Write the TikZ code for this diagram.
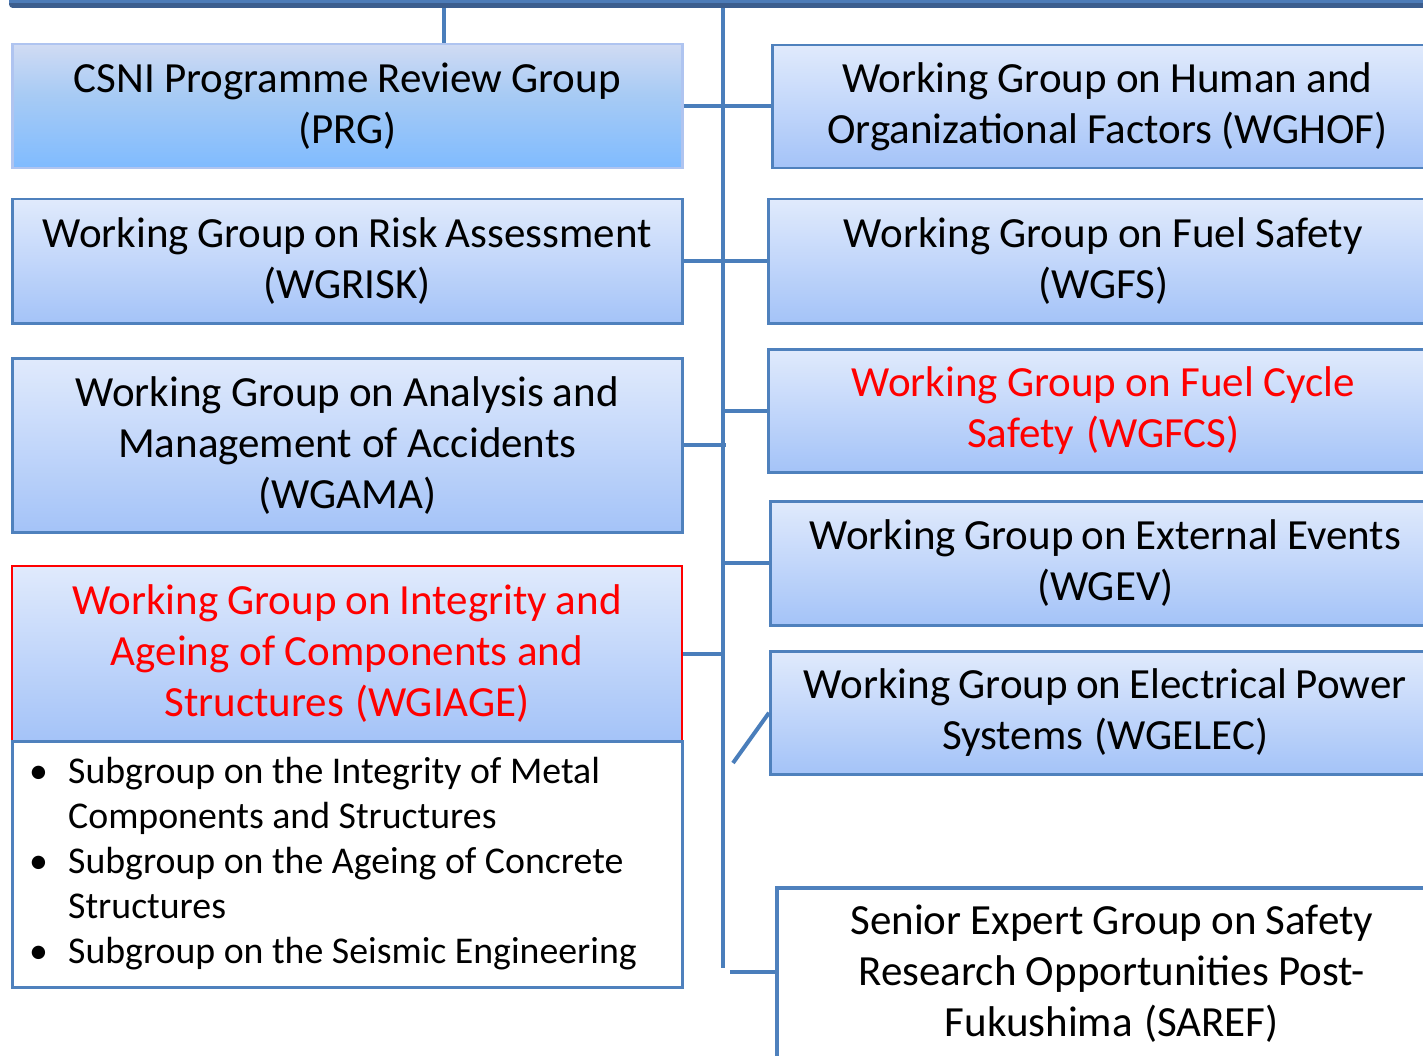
\documentclass[tikz,border=0pt]{standalone}
\usepackage{fontspec}
\setmainfont{Carlito}
\usetikzlibrary{calc}

\definecolor{edge}{HTML}{4F81BD}
\definecolor{wire}{HTML}{4A7EBB}
\definecolor{bardark}{HTML}{3C5E8E}
\definecolor{barlight}{HTML}{4D7CB8}
\definecolor{boxtop}{HTML}{E0EAFC}
\definecolor{boxbot}{HTML}{A4C3F8}
\definecolor{prgtop}{HTML}{F4E8F6}
\definecolor{prghaze}{HTML}{E2E2F3}
\definecolor{prgpale}{HTML}{A8CBF4}
\definecolor{prgmid}{HTML}{7FBBFF}
\definecolor{prgbot}{HTML}{5E9DFF}
\definecolor{prgedge}{HTML}{AFC4F0}
\definecolor{alert}{HTML}{FF0000}

\pgfdeclareverticalshading{prgshade}{100bp}{color(0bp)=(prgbot); color(25bp)=(prgmid);
  color(55bp)=(prgpale); color(84bp)=(prghaze); color(100bp)=(prgtop)}

\newcommand\bigtxt{\fontsize{43}{51}\selectfont}
\newcommand\smalltxt{\fontsize{37.8}{45}\selectfont}

\begin{document}
\begin{tikzpicture}[x=1pt,y=-1pt,
  wg/.style={draw=edge, line width=2.5pt, top color=boxtop, bottom color=boxbot,
    minimum width=670pt, inner sep=0pt, text width=660pt, align=center,
    font=\bigtxt, execute at begin node={\spaceskip=7.6pt plus 2pt minus 1pt\relax},
    anchor=north west},
  plain/.style={draw=edge, line width=3pt, fill=white, minimum width=670pt,
    inner sep=0pt, anchor=north west},
  wire/.style={draw=wire, line width=4pt}]

\useasboundingbox (0,0) rectangle (1423,1056);
\clip (0,0) rectangle (1423,1056);

% heading bar
\node[fill=bardark, rounded corners=3pt, minimum width=1430pt, minimum height=15pt,
  inner sep=0pt, anchor=south west] (bar) at (9,8) {};
\fill[barlight] (9,-8) rectangle (1440,3);

% left column
\node[wg, draw=prgedge, shading=prgshade, minimum height=124pt] (prg) at (11,43)
  {CSNI Programme Review Group\\(PRG)};
\node[wg, minimum height=124pt] (wgrisk) at (11,198)
  {Working Group on Risk Assessment\\(WGRISK)};
\node[wg, minimum height=174pt] (wgama) at (11,357)
  {Working Group on Analysis and\\Management of Accidents\\(WGAMA)};
\node[wg, draw=alert, line width=2pt, text=alert, minimum height=175pt] (wgiage) at (11,565)
  {Working Group on Integrity and\\Ageing of Components and\\Structures (WGIAGE)};
\node[plain, minimum height=246pt] (subs) at (11,740) {};
\node[anchor=base west, inner sep=0pt, font=\smalltxt] (sublist) at (29,783)
  {\begin{tabular}[t]{@{}p{39pt}@{}l@{}}
   \textbullet & Subgroup on the Integrity of Metal\\
               & Components and Structures\\
   \textbullet & Subgroup on the Ageing of Concrete\\
               & Structures\\
   \textbullet & Subgroup on the Seismic Engineering
   \end{tabular}};

% right column
\node[wg, minimum height=123pt] (wghof) at (771,44)
  {Working Group on Human and\\Organizational Factors (WGHOF)};
\node[wg, minimum height=124pt] (wgfs) at (767,198)
  {Working Group on Fuel Safety\\(WGFS)};
\node[wg, text=alert, minimum height=123pt] (wgfcs) at (767,348)
  {Working Group on Fuel Cycle\\Safety (WGFCS)};
\node[wg, minimum height=124pt] (wgev) at (769,500)
  {Working Group on External Events\\(WGEV)};
\node[wg, minimum height=123pt] (wgelec) at (769,650)
  {Working Group on Electrical Power\\Systems (WGELEC)};
\node[wg, fill=white, top color=white, bottom color=white, line width=3.5pt,
  minimum height=172pt] (saref) at (775,886)
  {Senior Expert Group on Safety\\Research Opportunities Post-\\Fukushima (SAREF)};

% connectors
\coordinate (tap) at (444,0);
\coordinate (spine) at (723,0);
\coordinate (spineend) at (723,968);
\coordinate (elecfoot) at (733,763);
\coordinate (sarefstub) at (730,972);

\draw[wire] (tap |- bar.south) -- (tap |- prg.north);
\draw[wire] (spine |- bar.south) -- (spineend);
\draw[wire] (prg.east) -- (prg.east -| wghof.west);
\draw[wire] (wgrisk.east) -- (wgrisk.east -| wgfs.west);
\draw[wire] (wgama.east) -- ([xshift=3pt]wgama.east -| spine);
\draw[wire] (spine |- wgfcs.west) -- (wgfcs.west);
\draw[wire] (spine |- wgev.west) -- (wgev.west);
\draw[wire] (wgiage.east) -- (wgiage.east -| spine);
\draw[wire] (elecfoot) -- (wgelec.west);
\draw[wire] (sarefstub) -- (sarefstub -| saref.west);
\end{tikzpicture}
\end{document}
